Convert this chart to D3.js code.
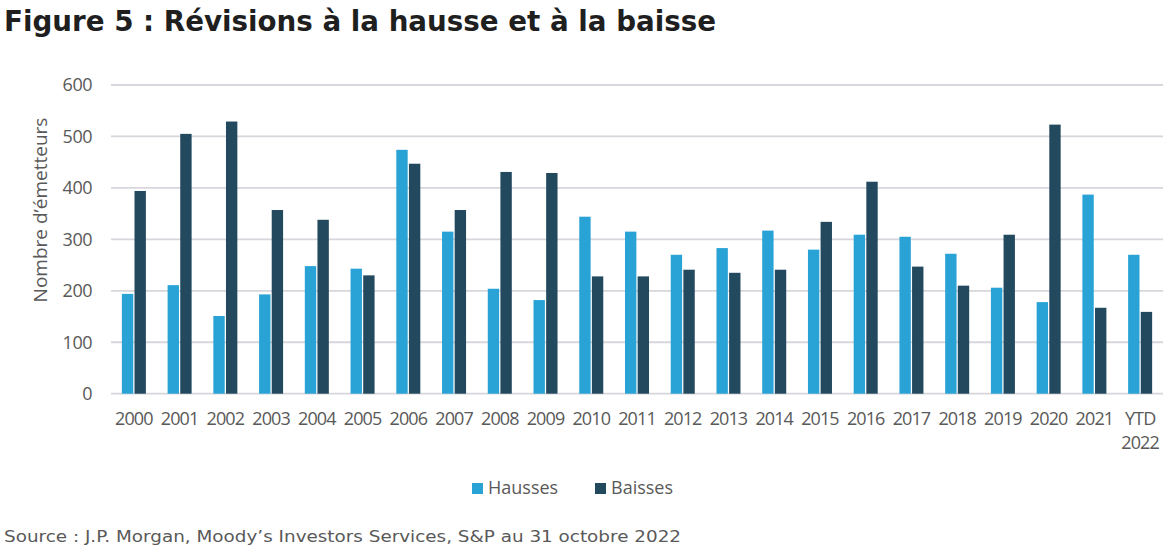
<!DOCTYPE html>
<html>
<head>
<meta charset="utf-8">
<script src="https://d3js.org/d3.v7.min.js"></script>
<style>
  body { margin: 0; background: #fff; }
  svg text { font-family: "Open Sans", "DejaVu Sans", sans-serif; }
</style>
</head>
<body>
<svg width="1168" height="549"></svg>
<script>
// data
var years = ["2000","2001","2002","2003","2004","2005","2006","2007","2008","2009","2010",
             "2011","2012","2013","2014","2015","2016","2017","2018","2019","2020","2021","YTD 2022"];
var hausses = [194,211,151,193,248,243,474,315,204,182,344,315,270,283,317,280,309,305,272,206,178,387,270];
var baisses = [394,505,529,357,338,230,447,357,431,429,228,228,241,235,241,334,412,247,210,309,523,167,159];
var series = ["Hausses", "Baisses"];
var yTicks = [0,100,200,300,400,500,600];

var colors = { Hausses: "#29a3d6", Baisses: "#23495f" };
var textGrey = "#595959";

var svg = d3.select("svg");

var x0 = d3.scaleBand().domain(years).range([111, 1163]).paddingInner(0.475).paddingOuter(0.2375);
var x1 = d3.scaleBand().domain(series).range([0, x0.bandwidth()]).paddingInner(0.1);
var y = d3.scaleLinear().domain([0, 600]).range([393.7, 85]);

// title
svg.append("text")
    .attr("x", 4).attr("y", 31)
    .attr("textLength", 712).attr("lengthAdjust", "spacingAndGlyphs")
    .style("font-family", "'DejaVu Sans', sans-serif")
    .style("font-weight", "bold").style("font-size", "29px")
    .attr("fill", "#1f1f1f")
    .text("Figure 5 : Révisions à la hausse et à la baisse");

// gridlines
svg.append("g").selectAll("line")
    .data(yTicks)
    .enter().append("line")
      .attr("x1", 111).attr("x2", 1163)
      .attr("y1", function(d) { return y(d); })
      .attr("y2", function(d) { return y(d); })
      .attr("stroke", "#d6d6dc").attr("stroke-width", 1.8);

// y axis
var yAxis = svg.append("g")
    .attr("transform", "translate(92,0)")
    .call(d3.axisLeft(y).tickValues(yTicks).tickSize(0).tickPadding(0));
yAxis.select(".domain").remove();
yAxis.selectAll("text")
    .attr("fill", textGrey)
    .style("font-size", "18px")
    .style("letter-spacing", "-0.5px")
    .style("font-family", "'Open Sans', sans-serif");

svg.append("text")
    .attr("transform", "translate(47,210) rotate(-90)")
    .attr("text-anchor", "middle")
    .attr("fill", textGrey)
    .style("font-size", "19px")
    .text("Nombre d\u2019émetteurs");

// bars
var rows = years.map(function(yr, i) {
  return { year: yr, Hausses: hausses[i], Baisses: baisses[i] };
});

var group = svg.append("g").selectAll("g")
    .data(rows)
    .enter().append("g")
      .attr("transform", function(d) { return "translate(" + x0(d.year) + ",0)"; });

group.selectAll("rect")
    .data(function(d) { return series.map(function(s) { return { key: s, value: d[s] }; }); })
    .enter().append("rect")
      .attr("x", function(d) { return x1(d.key); })
      .attr("width", x1.bandwidth())
      .attr("y", function(d) { return y(d.value); })
      .attr("height", function(d) { return y(0) - y(d.value); })
      .attr("fill", function(d) { return colors[d.key]; });

// x labels (a label with a space wraps onto a second line)
var xLines = [];
years.forEach(function(d) {
  d.split(" ").forEach(function(p, i) { xLines.push({ year: d, text: p, line: i }); });
});
svg.append("g").selectAll("text")
    .data(xLines)
    .enter().append("text")
      .attr("x", function(d) { return x0(d.year) + x0.bandwidth() / 2; })
      .attr("y", function(d) { return 425 + d.line * 24; })
      .attr("text-anchor", "middle")
      .attr("fill", textGrey)
      .style("font-size", "18px")
      .style("letter-spacing", "-0.9px")
      .text(function(d) { return d.text; });

// legend
var legendX = [472, 595];
var leg = svg.append("g").selectAll("g")
    .data(series)
    .enter().append("g")
      .attr("transform", function(d, i) { return "translate(" + legendX[i] + ",483)"; });
leg.append("rect")
    .attr("width", 11).attr("height", 11)
    .attr("fill", function(d) { return colors[d]; });
leg.append("text")
    .attr("x", 16).attr("y", 10.5)
    .attr("fill", textGrey)
    .style("font-size", "18px")
    .text(function(d) { return d; });

// source
svg.append("text")
    .attr("x", 4).attr("y", 542)
    .attr("textLength", 677).attr("lengthAdjust", "spacingAndGlyphs")
    .attr("fill", textGrey)
    .style("font-family", "'DejaVu Sans', sans-serif")
    .style("font-size", "16.5px")
    .text("Source : J.P. Morgan, Moody\u2019s Investors Services, S&P au 31 octobre 2022");
</script>
</body>
</html>
